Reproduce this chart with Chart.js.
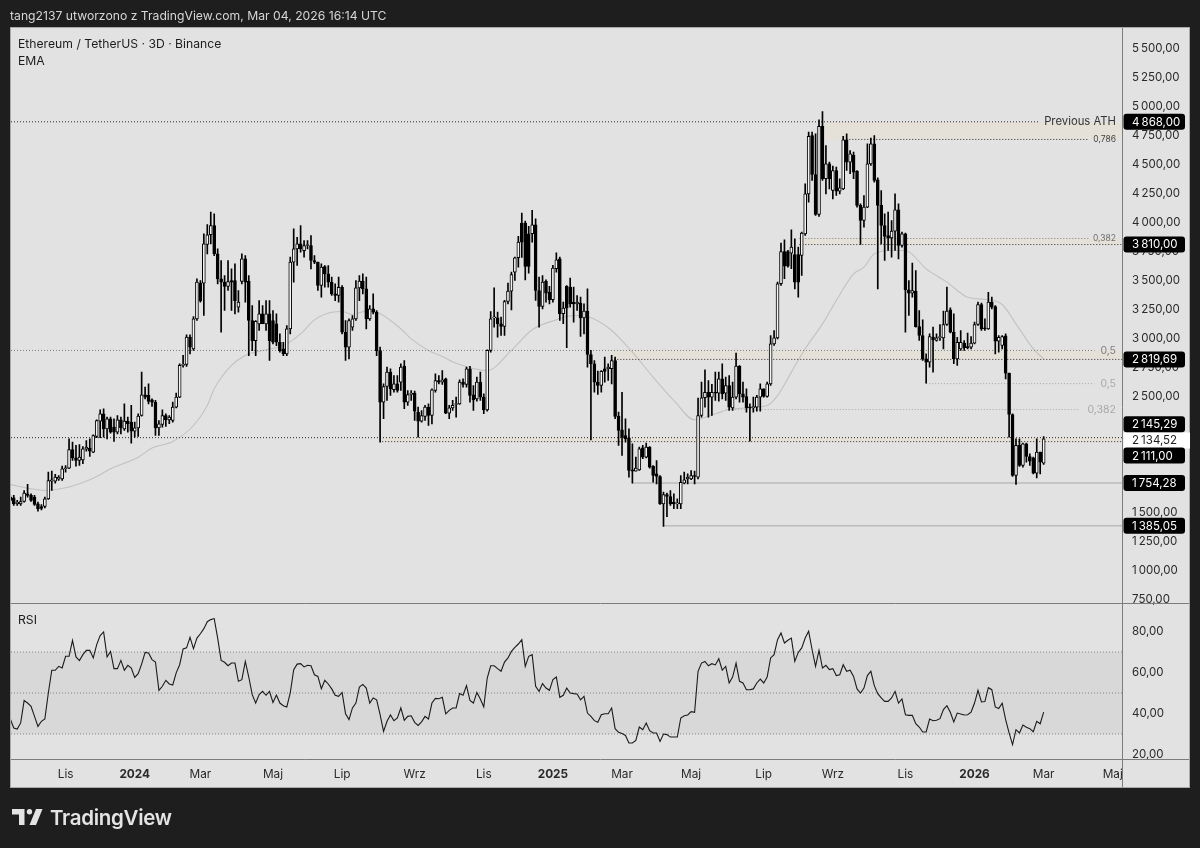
<!DOCTYPE html>
<html>
<head>
    <meta charset="utf-8">
    <title>Ethereum / TetherUS · 3D · Binance</title>
    <script src="https://cdn.jsdelivr.net/npm/chart.js@4/dist/chart.umd.min.js"></script>
    <style>
        html, body { margin: 0; padding: 0; background: #1e1e1e; }
        body { width: 1200px; height: 848px; position: relative; overflow: hidden; font-family: Inter, "Noto Sans", sans-serif; }
        canvas { position: absolute; left: 0; top: 0; }
        .txt { position: absolute; white-space: nowrap; line-height: 16px; }
        #header { left: 10px; top: 8px; font-size: 12.2px; color: #d6d6d6; }
        .pane { left: 18px; font-size: 12.2px; color: #1c1c1c; }
        #brand { left: 50px; top: 806px; font-size: 20.5px; line-height: 24px; font-weight: 600; color: #e4e4e4; letter-spacing: -0.3px; }
        #logo { position: absolute; left: 12px; top: 809px; }
    </style>
</head>
<body>
    <canvas id="ethChart" width="1200" height="848"></canvas>
    <div class="txt" id="header">tang2137 utworzono z TradingView.com, Mar 04, 2026 16:14 UTC</div>
    <div class="txt pane" style="top:36px">Ethereum / TetherUS · 3D · Binance</div>
    <div class="txt pane" style="top:53px">EMA</div>
    <div class="txt pane" style="top:612px">RSI</div>
    <svg id="logo" width="31" height="16" viewBox="0 0 31 16">
        <path d="M0 0H12.5V16H7V5.5H0Z" fill="#e4e4e4"/>
        <circle cx="17.5" cy="2.7" r="2.7" fill="#e4e4e4"/>
        <path d="M24 0H30.5L24 16H17.5Z" fill="#e4e4e4"/>
    </svg>
    <div class="txt" id="brand">TradingView</div>

    <script>
        // one entry per 3D bar, bar number is the x value
        const opens = [
            1632,1627,1575,1575,1595,1661,1647,1632,1575,1552,
            1552,1618,1770,1770,1788,1790,1877,1882,2043,1971,
            1948,1954,2046,2055,2020,2155,2288,2351,2221,2308,
            2236,2193,2299,2221,2288,2279,2201,2230,2336,2515,
            2509,2472,2451,2230,2259,2336,2299,2293,2408,2495,
            2768,2776,3012,2911,3169,3477,3477,3810,3894,3974,
            3730,3514,3486,3448,3500,3500,3270,3491,3687,3494,
            3155,2982,3126,3212,3126,3212,3155,3126,2968,2910,
            2868,3083,3658,3773,3816,3758,3802,3802,3672,3658,
            3457,3620,3557,3486,3385,3371,3442,3054,2925,3097,
            3169,3437,3494,3428,3169,3256,3227,2896,2451,2586,
            2710,2558,2610,2624,2762,2451,2517,2529,2365,2287,
            2328,2408,2336,2552,2638,2624,2652,2356,2402,2431,
            2437,2624,2604,2739,2514,2480,2624,2494,2385,2897,
            3178,3178,3127,3104,3319,3408,3572,3696,3995,3995,
            3903,3903,3980,3414,3276,3492,3400,3334,3601,3687,
            3213,3449,3443,3313,3299,3305,3178,3236,2862,2782,
            2624,2595,2739,2739,2739,2810,2328,2213,2164,2144,
            1868,1856,1868,2058,1977,2063,1897,1833,1810,1575,
            1655,1638,1589,1575,1575,1753,1790,1790,1819,1805,
            2336,2489,2537,2494,2537,2529,2652,2529,2595,2402,
            2494,2762,2523,2500,2408,2402,2408,2494,2566,2500,
            2609,2954,3006,3472,3750,3750,3736,3724,3724,3716,
            3902,4247,4750,4414,4069,4828,4377,4506,4276,4448,
            4270,4290,4713,4520,4578,4443,4147,4017,4132,4506,
            4678,4368,4147,3974,3888,3868,3925,4109,3802,3902,
            3420,3391,3408,3103,3026,2825,2796,3012,2983,3006,
            3006,3121,3247,3055,2825,2911,2960,2931,2925,2960,
            3121,3293,3092,3083,3313,3276,2977,2940,3023,2701,
            2345,1819,2078,1905,2092,1983,1971,1839,2020,1926
        ];
        const highs = [
            1647,1647,1604,1632,1690,1742,1661,1647,1589,1569,
            1632,1848,1856,1828,1819,1900,1905,2135,2107,2078,
            2086,2069,2121,2135,2170,2299,2385,2394,2322,2322,
            2308,2336,2322,2437,2322,2423,2279,2351,2710,2581,
            2610,2480,2466,2293,2385,2351,2336,2451,2529,2782,
            2854,3032,3032,3190,3514,3500,3902,3983,4089,4075,
            3773,3672,3543,3672,3600,3643,3414,3730,3715,3543,
            3284,3155,3327,3284,3327,3327,3241,3212,3040,2968,
            3112,3701,3945,3873,3974,3845,3845,3888,3715,3658,
            3643,3629,3629,3529,3471,3529,3457,3155,3169,3198,
            3500,3543,3557,3529,3284,3385,3241,2926,2610,2753,
            2739,2681,2681,2782,2810,2552,2552,2546,2408,2379,
            2423,2437,2566,2695,2681,2724,2658,2423,2466,2494,
            2644,2652,2753,2759,2595,2667,2710,2523,2902,3233,
            3437,3227,3184,3328,3477,3572,3701,3880,4081,4012,
            3966,4104,4032,3529,3543,3506,3449,3630,3739,3701,
            3313,3457,3520,3443,3371,3357,3299,3428,2897,2810,
            2719,2724,2839,2782,2854,2839,2365,2537,2308,2221,
            2092,1977,2063,2078,2098,2069,1905,1948,1819,1675,
            1667,1690,1661,1618,1819,1848,1833,1862,1856,2486,
            2624,2730,2638,2604,2710,2710,2782,2667,2681,2624,
            2874,2767,2624,2566,2437,2494,2509,2609,2566,2624,
            3026,3069,3486,3822,3851,3759,3937,3859,3787,3917,
            4333,4779,4779,4765,4885,4957,4664,4520,4486,4477,
            4377,4742,4765,4621,4607,4448,4161,4233,4678,4727,
            4750,4385,4276,4075,4089,4017,4247,4161,3917,3908,
            3500,3650,3586,3241,3161,2868,3040,3098,3040,3121,
            3236,3443,3264,3213,3011,3069,2983,3046,3017,3141,
            3313,3305,3170,3399,3356,3284,3026,3026,3040,2701,
            2351,2135,2135,2098,2098,2006,1977,2135,2020,2155
        ];
        const lows = [
            1589,1560,1561,1561,1589,1632,1595,1561,1512,1523,
            1540,1612,1690,1753,1776,1776,1848,1877,1948,1900,
            1905,1920,2029,1983,2015,2144,2144,2150,2135,2184,
            2112,2178,2178,2207,2193,2098,2150,2155,2331,2480,
            2437,2414,2164,2164,2236,2242,2265,2279,2402,2489,
            2753,2759,2868,2897,3155,3313,3198,3730,3816,3715,
            3471,3054,3241,3414,3241,3212,3227,3471,3313,2853,
            2896,2853,3069,3155,3069,2810,2954,2939,2882,2853,
            2853,3040,3485,3629,3744,3701,3773,3600,3644,3414,
            3356,3442,3442,3371,3327,3313,3040,2810,2824,3069,
            3155,3327,3385,3083,3155,3212,2853,2107,2308,2466,
            2509,2538,2538,2552,2394,2423,2466,2293,2150,2279,
            2293,2250,2264,2537,2609,2604,2351,2308,2379,2322,
            2431,2581,2581,2451,2379,2460,2466,2351,2374,2882,
            3098,3012,3026,3026,3299,3247,3500,3615,3700,3506,
            3563,3831,3328,3098,3256,3313,3299,3313,3572,3155,
            3127,2920,3270,3141,3242,3017,3040,2753,2126,2537,
            2517,2537,2624,2638,2609,2308,2078,1991,2106,1805,
            1753,1856,1862,1963,1971,1882,1761,1747,1569,1379,
            1465,1560,1532,1532,1532,1747,1747,1782,1747,1790,
            2322,2408,2322,2336,2466,2460,2480,2466,2379,2379,
            2480,2451,2451,2365,2115,2365,2374,2374,2494,2494,
            2595,2940,2997,3457,3515,3615,3601,3428,3356,3543,
            3888,4175,4362,4060,4052,4362,4247,4290,4204,4233,
            4247,4282,4448,4420,4377,4132,3810,3960,4127,4492,
            4348,3428,3816,3672,3759,3701,3759,3687,3787,3055,
            3198,3356,3098,2983,2810,2615,2753,2710,2977,2983,
            2911,3112,3049,2782,2767,2897,2897,2911,2911,2954,
            3112,3069,3069,3078,3256,2868,2882,2911,2652,2150,
            1810,1741,1897,1891,1934,1905,1833,1799,1833,1914
        ];
        const closes = [
            1604,1575,1590,1595,1667,1647,1604,1569,1532,1535,
            1618,1776,1782,1805,1805,1877,1882,2043,1971,1948,
            1977,2049,2063,2029,2164,2293,2351,2221,2308,2193,
            2193,2299,2230,2288,2265,2201,2230,2331,2515,2495,
            2457,2451,2230,2265,2336,2299,2322,2408,2495,2768,
            2776,3012,2926,3170,3486,3327,3816,3894,3974,3730,
            3514,3486,3448,3491,3486,3327,3313,3687,3486,3155,
            2982,3149,3212,3126,3212,2982,2968,2968,2896,2868,
            3083,3658,3773,3816,3773,3802,3810,3672,3658,3457,
            3615,3557,3486,3385,3371,3442,3054,2925,3155,3169,
            3437,3494,3428,3169,3256,3227,2896,2451,2586,2710,
            2566,2610,2552,2753,2451,2517,2529,2374,2287,2336,
            2408,2336,2558,2638,2624,2644,2356,2402,2423,2437,
            2624,2604,2739,2509,2471,2624,2494,2385,2897,3170,
            3184,3127,3104,3319,3408,3552,3696,3831,3831,3621,
            3621,3980,3414,3276,3486,3391,3334,3607,3678,3213,
            3262,3262,3299,3299,3313,3178,3236,2862,2782,2624,
            2595,2716,2716,2753,2810,2328,2207,2149,2135,1862,
            1856,1882,2049,1977,2063,1891,1819,1810,1575,1655,
            1638,1575,1575,1581,1761,1782,1805,1819,1810,2336,
            2489,2537,2494,2537,2529,2652,2523,2595,2408,2494,
            2762,2523,2494,2402,2402,2414,2494,2566,2500,2609,
            2954,3006,3472,3750,3624,3624,3787,3486,3486,3908,
            4247,4742,4414,4069,4828,4377,4506,4377,4448,4270,
            4299,4713,4520,4592,4434,4147,4017,4132,4506,4678,
            4362,4147,3974,3879,3868,3925,4109,3802,3902,3420,
            3391,3414,3103,3026,2825,2796,3017,2988,3006,3017,
            3121,3236,3055,2825,2968,2968,2920,2920,2960,3121,
            3293,3083,3083,3313,3270,2977,3011,3017,2701,2345,
            1819,2078,1905,2092,1983,1943,1839,2020,1934,2134.52
        ];
        const rsi = [
            37.3,32.9,32.4,35.4,46.3,45.1,43.5,38.6,33.7,36.2,
            37.3,50,61.1,61.1,63,62.2,67.9,67.9,75.7,67.6,
            65.8,68.7,70.8,70.8,67.1,73.6,78,79.8,67.6,70.3,
            61.9,61.9,65.9,61.1,63.5,62.2,57.6,59.4,64.1,69.8,
            69.5,66.3,65.1,51.3,53.3,56.2,54.4,53.9,59.8,63.8,
            71.5,72,77.2,71.6,76.8,78.9,81.4,84.8,85.8,86.3,
            76.8,65.9,65,63.3,64.6,64.6,55.7,56.5,65.4,57.8,
            49.2,45.1,49.2,50.8,48.9,50.8,45.4,49,45.1,43.8,
            43.2,50,61.4,64.1,64.3,62.7,63.5,63.3,58.9,58.1,
            52.1,56.2,54.4,52,48.9,48.4,50.3,39.9,37,42.7,
            45.1,52.9,54.2,52.4,45.1,47.6,46.7,39.4,31.3,36.2,
            39.3,36.5,37.8,42.7,36.7,38.6,38.9,35.7,34.2,35.9,
            38.6,37.3,45.1,47.4,47.2,47.9,39.8,41.5,42.7,42.7,
            49.7,48.9,53.6,46.4,45.1,50.3,47.1,43.2,57.3,63.3,
            63.3,61.9,60.6,65.1,67.1,70.3,72.3,73.9,76,63,
            67.9,68.7,53.3,50.8,54.6,52.4,51.3,56.5,57.8,47.9,
            48.9,52.4,50,49.7,49.5,46.7,48.4,40.2,38.6,36.5,
            35.7,39.4,39.9,39.9,42.7,32.6,30.8,30.2,29.3,25.6,
            25.6,26.9,33.4,32.1,35.4,31.6,30.5,30.5,26.4,30,
            29.7,28.5,28.5,28.5,37.8,38.9,39.3,40.9,40.6,60.6,
            64.6,65.4,63.3,64.3,63.7,66.7,61.1,63,54.9,57.8,
            64.6,55.7,54.9,51.6,51.6,52,54.9,56.8,54.9,57.8,
            67.1,68.7,76,79.3,74.4,75.7,76.8,65.4,69.8,72,
            76.8,80.1,71.1,63,70.8,62.2,63.5,61.4,61.9,58.5,
            58.9,63.8,60.6,61.1,58.1,52,50,52.4,58.5,60.6,
            53.6,49.7,47.6,45.9,45.9,47.6,50.8,45.1,47.1,39.4,
            39.1,39.1,35,33.4,31,31,37.3,36.5,36.7,37.5,
            41.9,43.8,40.6,35.9,40.2,39.8,39.3,39.4,40.7,45.1,
            51.3,45.6,45.8,52.6,51.6,43.2,42.4,45,37,30.5,
            24.8,32.1,30.5,34.4,33.3,32.6,31.1,36.2,35,40.7
        ];

        // EMA read at the bars where the line could be followed
        const emaBars = [0,6,10,16,24,29,37,41,47,53,57,59,64,68,74,79,84,88,93,96,99,103,107,113,116,121,125,129,138,145,151,158,163,168,174,180,186,192,198,204,209,219,222,226,230,235,239,244,247,250,255,259,265,271,277,282,287,291,296,299];
        const emaValues = [1742,1704,1690,1713,1796,1877,1977,2055,2112,2250,2423,2566,2768,2854,2903,2940,3040,3161,3227,3233,3207,3236,3213,3084,2997,2897,2845,2787,2724,2897,3075,3161,3198,3178,3069,2882,2667,2466,2299,2351,2394,2422,2508,2710,2911,3126,3328,3558,3615,3730,3759,3759,3600,3486,3356,3336,3293,3126,2911,2824];

        const priceTicks = [750,1000,1250,1500,1750,2000,2250,2500,2750,3000,3250,3500,3750,4000,4250,4500,4750,5000,5250,5500];
        const rsiTicks = [20,40,60,80];
        const monthBars = [16,36,55,76,96,117,137,157,177,197,218,238,259,279,299,319];
        const monthLabels = ['Lis','2024','Mar','Maj','Lip','Wrz','Lis','2025','Mar','Maj','Lip','Wrz','Lis','2026','Mar','Maj'];

        const xMin = 0.2;
        const xMax = 321.67;

        // drawn levels: price, first bar, last bar, kind
        const levelPrices = [4868,4716,3862,3810,2897,2819.69,2611,2388,2145.29,2111,1754.28,1385.05];
        const levelStarts = [xMin,241.9,228.3,228.3,xMin,173.9,265,207,xMin,107.6,180,189];
        const levelEnds = [297.7,312.2,312.2,xMax,313.7,xMax,313.7,309.3,xMax,xMax,xMax,xMax];
        const levelKinds = ['dark','dark','mid','dark','mid','dark','light','light','dark','dark','solid','solid'];

        // shaded zones: top price, bottom price, first bar
        const zoneTops = [4868,3862,2897,2145.29];
        const zoneBottoms = [4716,3810,2819.69,2111];
        const zoneStarts = [235.5,228.3,173.9,107.6];

        const rsiLevels = [70,50,30];

        const levelStyles = {
            dark: { color: '#2b2b2b', dash: [1, 2] },
            mid: { color: '#7d7d7d', dash: [1, 2] },
            light: { color: '#a6a6a6', dash: [1, 2] },
            solid: { color: '#a8a8a8', dash: [] }
        };

        function formatPrice(v) {
            const s = v.toFixed(2).replace('.', ',');
            return s.length > 6 ? s.slice(0, s.length - 6) + '\u2009' + s.slice(s.length - 6) : s;
        }

        const bars = opens.map((o, i) => i);

        const levelDatasets = levelPrices.map((p, i) => ({
            type: 'line',
            data: [{ x: levelStarts[i], y: p }, { x: levelEnds[i], y: p }],
            yAxisID: 'y',
            borderColor: levelStyles[levelKinds[i]].color,
            borderDash: levelStyles[levelKinds[i]].dash,
            borderWidth: 1,
            pointRadius: 0,
            order: 3
        }));
        const rsiLevelDatasets = rsiLevels.map(v => ({
            type: 'line',
            data: [{ x: xMin, y: v }, { x: xMax, y: v }],
            yAxisID: 'yRsi',
            borderColor: '#858585',
            borderDash: [1, 2],
            borderWidth: 1,
            pointRadius: 0,
            order: 3
        }));

        // background, shaded zones, frame lines
        const backdrop = {
            id: 'backdrop',
            beforeDatasetsDraw(chart) {
                const { ctx, scales: { x, y, yRsi } } = chart;
                ctx.save();
                zoneTops.forEach((top, i) => {
                    const left = x.getPixelForValue(zoneStarts[i]);
                    ctx.fillStyle = '#e5e0d8';
                    ctx.fillRect(left, y.getPixelForValue(top), x.right - left, y.getPixelForValue(zoneBottoms[i]) - y.getPixelForValue(top));
                });
                const bandTop = yRsi.getPixelForValue(70);
                ctx.fillStyle = '#d8d8d8';
                ctx.fillRect(x.left, bandTop, x.right - x.left, yRsi.getPixelForValue(30) - bandTop);
                ctx.restore();
            },
            beforeDraw(chart) {
                const { ctx, scales: { x } } = chart;
                ctx.save();
                ctx.fillStyle = '#1e1e1e';
                ctx.fillRect(0, 0, chart.width, chart.height);
                ctx.fillStyle = '#e2e2e2';
                ctx.fillRect(x.left, 27, 1190 - x.left, 760);
                ctx.restore();
            },
            afterDraw(chart) {
                const { ctx, scales: { x, y, yRsi } } = chart;
                ctx.save();
                ctx.strokeStyle = '#7c7c7c';
                ctx.lineWidth = 1;
                ctx.beginPath();
                ctx.moveTo(x.left, Math.floor(yRsi.top) + 0.5);
                ctx.lineTo(1190, Math.floor(yRsi.top) + 0.5);
                ctx.moveTo(x.left, Math.floor(yRsi.bottom) + 0.5);
                ctx.lineTo(1190, Math.floor(yRsi.bottom) + 0.5);
                ctx.moveTo(Math.round(x.right) + 0.5, 27);
                ctx.lineTo(Math.round(x.right) + 0.5, x.bottom);
                ctx.stroke();
                ctx.strokeStyle = '#a9a9a9';
                ctx.strokeRect(x.left - 0.5, 27.5, 1190 - x.left, 760);

                // small notes next to the levels
                ctx.textBaseline = 'middle';
                ctx.textAlign = 'right';
                const note = (text, value, right, size, color) => {
                    ctx.font = size + 'px Inter, sans-serif';
                    ctx.fillStyle = color;
                    ctx.fillText(text, right, y.getPixelForValue(value));
                };
                note('Previous ATH', 4868, 1116, 11.3, '#333333');
                note('0,786', 4716, 1116, 8.5, '#444444');
                note('0,382', 3862, 1116, 8.5, '#6d6d6d');
                note('0,5', 2897, 1116, 10.5, '#7d7d7d');
                note('0,5', 2611, 1116, 10.5, '#a8a8a8');
                note('0,382', 2388, 1116, 10.5, '#a8a8a8');

                // price badges on the axis
                ctx.font = '11.5px Inter, sans-serif';
                const badge = (value, dy, fill, textColor, width) => {
                    const cy = y.getPixelForValue(value) + dy;
                    ctx.fillStyle = fill;
                    ctx.beginPath();
                    ctx.roundRect(x.right + 1.5, cy - 8, width, 16, fill === '#ffffff' ? 0 : 3);
                    ctx.fill();
                    ctx.fillStyle = textColor;
                    ctx.textAlign = 'left';
                    ctx.fillText(formatPrice(value), x.right + 10, cy + 0.5);
                };
                badge(2134.52, 1.5, '#ffffff', '#1c1c1c', 66.5);
                badge(4868, 0, '#000000', '#ffffff', 61.5);
                badge(3810, 0, '#000000', '#ffffff', 61.5);
                badge(2819.69, 0, '#000000', '#ffffff', 61.5);
                badge(2145.29, -13.5, '#000000', '#ffffff', 61.5);
                badge(2111, 14, '#000000', '#ffffff', 61.5);
                badge(1754.28, 0, '#000000', '#ffffff', 61.5);
                badge(1385.05, 0, '#000000', '#ffffff', 61.5);
                ctx.restore();
            }
        };

        new Chart(document.getElementById('ethChart'), {
            type: 'bar',
            data: {
                datasets: [
                    ...levelDatasets,
                    ...rsiLevelDatasets,
                    {
                        type: 'line',
                        data: emaBars.map((b, i) => ({ x: b, y: emaValues[i] })),
                        yAxisID: 'y',
                        borderColor: '#c2c2c2',
                        borderWidth: 1.1,
                        pointRadius: 0,
                        cubicInterpolationMode: 'monotone',
                        order: 4
                    },
                    {
                        // wicks
                        data: bars.map(i => ({ x: i, y: [lows[i], highs[i]] })),
                        yAxisID: 'y',
                        grouped: false,
                        barThickness: 1,
                        backgroundColor: '#000000',
                        borderWidth: 0,
                        order: 2
                    },
                    {
                        // bodies
                        data: bars.map(i => ({ x: i, y: [opens[i], closes[i]] })),
                        yAxisID: 'y',
                        grouped: false,
                        barThickness: 3,
                        minBarLength: 1,
                        backgroundColor: bars.map(i => closes[i] >= opens[i] ? '#f4f4f4' : '#000000'),
                        borderColor: '#000000',
                        borderWidth: 1,
                        borderSkipped: false,
                        order: 1
                    },
                    {
                        type: 'line',
                        data: bars.map(i => ({ x: i, y: rsi[i] })),
                        yAxisID: 'yRsi',
                        borderColor: '#1a1a1a',
                        borderWidth: 1.1,
                        pointRadius: 0,
                        order: 0
                    }
                ]
            },
            options: {
                responsive: false,
                animation: false,
                layout: { padding: { left: 11, top: 27.5, right: 10, bottom: 60.5 } },
                plugins: { legend: { display: false }, tooltip: { enabled: false } },
                scales: {
                    x: {
                        type: 'linear',
                        min: xMin,
                        max: xMax,
                        offset: false,
                        grid: { display: false, offset: false },
                        border: { display: false },
                        afterBuildTicks: scale => { scale.ticks = monthBars.map(v => ({ value: v })); },
                        afterFit: scale => { scale.height = 28; },
                        ticks: {
                            autoSkip: false,
                            maxRotation: 0,
                            padding: 0,
                            color: '#2a2a2a',
                            font: ctx => ({
                                family: 'Inter, sans-serif',
                                size: 11.8,
                                weight: ctx.tick && monthLabels[monthBars.indexOf(ctx.tick.value)].length === 4 ? '700' : '400'
                            }),
                            callback: v => monthLabels[monthBars.indexOf(v)]
                        }
                    },
                    y: {
                        position: 'right',
                        stack: 'panes',
                        stackWeight: 576,
                        min: 715.5,
                        max: 5681,
                        grid: { display: false },
                        border: { display: false },
                        afterBuildTicks: scale => { scale.ticks = priceTicks.map(v => ({ value: v })); },
                        afterFit: scale => { scale.width = 68; },
                        ticks: {
                            autoSkip: false,
                            padding: 2,
                            color: '#2a2a2a',
                            font: { family: 'Inter, sans-serif', size: 11.5 },
                            callback: v => formatPrice(v)
                        }
                    },
                    yRsi: {
                        position: 'right',
                        stack: 'panes',
                        stackWeight: 156,
                        min: 17.56,
                        max: 93.66,
                        grid: { display: false },
                        border: { display: false },
                        afterBuildTicks: scale => { scale.ticks = rsiTicks.map(v => ({ value: v })); },
                        afterFit: scale => { scale.width = 68; },
                        ticks: {
                            autoSkip: false,
                            padding: 2,
                            color: '#2a2a2a',
                            font: { family: 'Inter, sans-serif', size: 11.5 },
                            callback: v => formatPrice(v)
                        }
                    }
                }
            },
            plugins: [backdrop]
        });
    </script>
</body>
</html>
